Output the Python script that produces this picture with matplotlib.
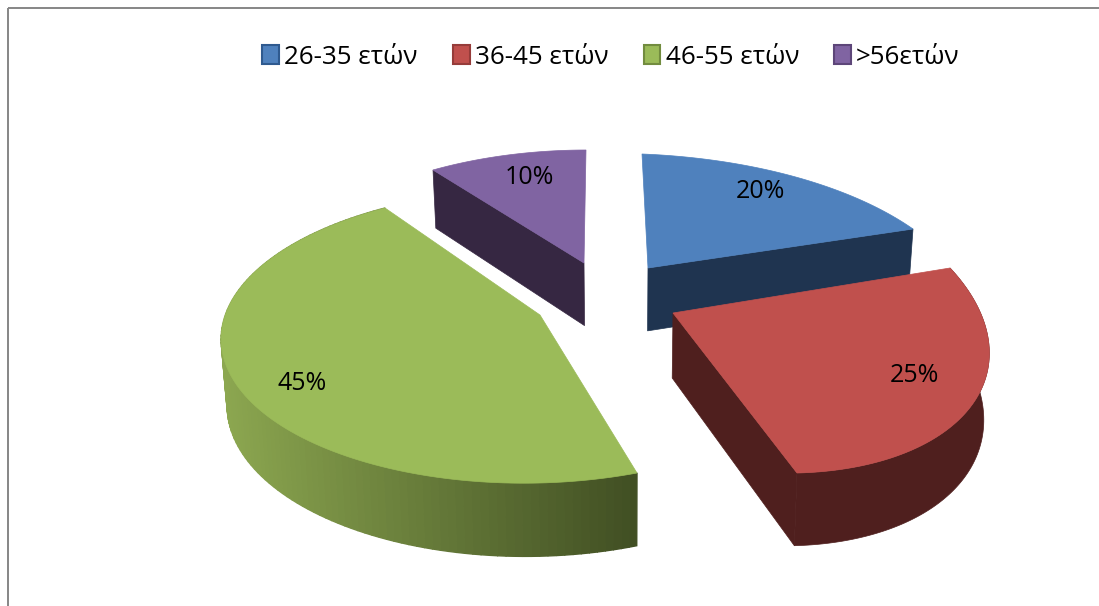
import numpy as np
import matplotlib
matplotlib.use('Agg')
import matplotlib.pyplot as plt
from matplotlib.patches import Patch, Polygon, Rectangle
from matplotlib.colors import to_rgb

labels = ['26-35 ετών', '36-45 ετών', '46-55 ετών', '>56ετών']
values = [20, 25, 45, 10]

top_colors = ['#4f81bd', '#c0504d', '#9bbb59', '#8064a2']
edge_colors = ['#2f5a8f', '#963c3a', '#728c3f', '#5d4679']
wall_left = ['#1f3450', '#4f1f1e', '#8ca750', '#362742']
wall_right = ['#1f3450', '#4f1f1e', '#414f23', '#362742']

# where each exploded slice lands on the page: apex, start corner, arc middle, end corner
anchors = [
    [(648, 268), (642, 154), (792, 176), (913, 229)],
    [(673, 313), (950, 268), (968, 410), (797, 473)],
    [(540, 315), (637, 473), (236, 384), (385, 208)],
    [(584, 263), (433, 170), (508, 155), (586, 150)],
]
label_pos = [(760, 192), (914, 375), (302, 383), (529, 177)]
# which side walls show: radial wall at the end of the slice, outer wall range
show_radial = [True, True, False, True]
show_outer = [False, True, True, False]


def get_homography(src, dst):
    rows = []
    rhs = []
    for (u, v), (x, y) in zip(src, dst):
        rows.append([u, v, 1, 0, 0, 0, -u * x, -v * x])
        rows.append([0, 0, 0, u, v, 1, -u * y, -v * y])
        rhs += [x, y]
    h = np.linalg.solve(np.array(rows, float), np.array(rhs, float))
    return np.append(h, 1).reshape(3, 3)


def project(h, u, v):
    p = h @ np.vstack([u, v, np.ones_like(u)])
    return np.column_stack([p[0] / p[2], p[1] / p[2]])


def drop(pts):
    # bottom of the pie: depth grows toward the viewer, sides lean to the middle
    pts = np.asarray(pts, float)
    return pts + np.column_stack([-(pts[:, 0] - 620) * 0.015, 50 + 0.048 * pts[:, 1]])


fig = plt.figure(figsize=(10.99, 6.06), dpi=100)
ax = fig.add_axes([0, 0, 1, 1])
ax.set_xlim(0, 1099)
ax.set_ylim(606, 0)
ax.axis('off')

ax.add_patch(Rectangle((8, 8), 1200, 700, fill=False, edgecolor='#868686', lw=1.4))

fracs = np.array(values) / sum(values)
ends = np.cumsum(fracs) * 2 * np.pi
starts = ends - fracs * 2 * np.pi
draw_order = [3, 0, 2, 1]

for i in draw_order:
    t0, t1 = starts[i], ends[i]
    tm = (t0 + t1) / 2
    src = [(0, 0), (np.sin(t0), np.cos(t0)), (np.sin(tm), np.cos(tm)), (np.sin(t1), np.cos(t1))]
    h = get_homography(src, anchors[i])
    t = np.linspace(t0, t1, 120)
    arc = project(h, np.sin(t), np.cos(t))
    apex = np.array(anchors[i][0], float)

    if show_radial[i]:
        if i == 3:
            edge = np.array([arc[0], apex])
        else:
            edge = np.array([apex, arc[-1]])
        ax.add_patch(Polygon(np.vstack([edge, drop(edge)[::-1]]), closed=True,
                             facecolor=wall_right[i], edgecolor=wall_right[i], lw=0.5))
    if show_outer[i]:
        low = drop(arc)
        if wall_left[i] == wall_right[i]:
            ax.add_patch(Polygon(np.vstack([arc, low[::-1]]), closed=True,
                                 facecolor=wall_left[i], edgecolor=wall_left[i], lw=0.5))
        else:
            xmin, xmax = arc[:, 0].min(), arc[:, 0].max()
            c0, c1 = np.array(to_rgb(wall_left[i])), np.array(to_rgb(wall_right[i]))
            for k in range(len(arc) - 1):
                f = (arc[k, 0] - xmin) / (xmax - xmin)
                c = c0 + (c1 - c0) * f
                ax.add_patch(Polygon([arc[k], arc[k + 1], low[k + 1], low[k]], closed=True,
                                     facecolor=c, edgecolor=c, lw=1.0))
    ax.add_patch(Polygon(np.vstack([apex, arc]), closed=True, facecolor=top_colors[i],
                         edgecolor=top_colors[i], lw=0.5))

for v, pos in zip(values, label_pos):
    ax.text(pos[0], pos[1], f'{v}%', ha='center', va='center', fontsize=18,
            family='Open Sans', color='black')

handles = [Patch(facecolor=c, edgecolor=e, lw=1.5) for c, e in zip(top_colors, edge_colors)]
ax.legend(handles, labels, ncol=4, loc='center', bbox_to_anchor=(611 / 1099, 1 - 57 / 606),
          frameon=False, prop={'family': 'Open Sans', 'size': 18.7}, handlelength=0.65,
          handleheight=0.7, handletextpad=0.2, columnspacing=1.35)

fig.savefig('out.png', dpi=100)
